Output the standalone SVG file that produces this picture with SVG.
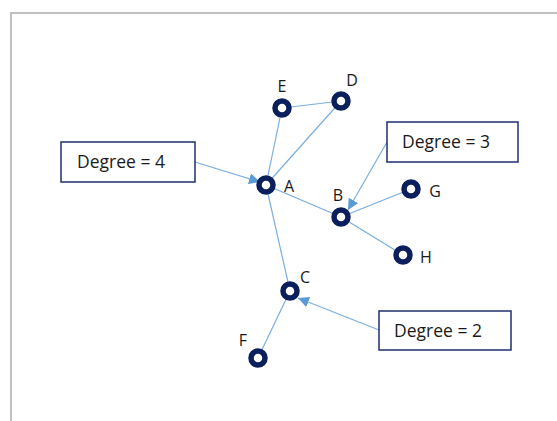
<svg xmlns="http://www.w3.org/2000/svg" width="557" height="421" viewBox="0 0 557 421">
<defs>
<style>
.edge{stroke:#7aaee0;stroke-width:1.2;fill:none}
.ptr{stroke:#7aaee0;stroke-width:1.2;fill:none;marker-end:url(#ah)}
.node circle{fill:#fff;stroke:#0b1f5c;stroke-width:5.5}
.lbl{font-family:"Open Sans","Noto Sans",sans-serif;font-size:16px;fill:#1a1a1a;text-anchor:middle}
.box rect{fill:#fff;stroke:#1f2f6e;stroke-width:1.5}
.box text{font-family:"Open Sans","Noto Sans",sans-serif;font-size:17.5px;fill:#1a1a1a}
</style>
<marker id="ah" viewBox="0 0 10 10" refX="10" refY="5" markerWidth="11" markerHeight="11" markerUnits="userSpaceOnUse" orient="auto">
<path d="M0,0 L10,5 L0,10 z" fill="#5b9bd5"/>
</marker>
</defs>
<rect x="11" y="13" width="560" height="420" fill="#fff" stroke="#c0c0c0" stroke-width="2"/>
<g id="connectors">
<line class="edge" x1="282" y1="108" x2="341" y2="101"/>
<line class="edge" x1="282" y1="108" x2="266" y2="185"/>
<line class="edge" x1="341" y1="101" x2="266" y2="185"/>
<line class="edge" x1="266" y1="185" x2="341" y2="217"/>
<line class="edge" x1="266" y1="185" x2="290" y2="291"/>
<line class="edge" x1="341" y1="217" x2="411" y2="189"/>
<line class="edge" x1="341" y1="217" x2="403" y2="255"/>
<line class="edge" x1="290" y1="291" x2="258" y2="358"/>
<line class="ptr" x1="195" y1="162" x2="260" y2="182"/>
<line class="ptr" x1="387" y1="142" x2="348" y2="210"/>
<line class="ptr" x1="379" y1="330" x2="298" y2="298"/>
</g>
<g id="node-E" class="node"><circle cx="282" cy="108" r="7"/><text class="lbl" x="282" y="92">E</text></g>
<g id="node-D" class="node"><circle cx="341" cy="101" r="7"/><text class="lbl" x="352" y="86">D</text></g>
<g id="node-A" class="node"><circle cx="266" cy="185" r="7"/><text class="lbl" x="289" y="192">A</text></g>
<g id="node-B" class="node"><circle cx="341" cy="217" r="7"/><text class="lbl" x="338" y="201">B</text></g>
<g id="node-G" class="node"><circle cx="411" cy="189" r="7"/><text class="lbl" x="435" y="197">G</text></g>
<g id="node-H" class="node"><circle cx="403" cy="255" r="7"/><text class="lbl" x="426" y="263">H</text></g>
<g id="node-C" class="node"><circle cx="290" cy="291" r="7"/><text class="lbl" x="305" y="283">C</text></g>
<g id="node-F" class="node"><circle cx="258" cy="358" r="7"/><text class="lbl" x="243" y="346">F</text></g>
<g id="box-deg4" class="box"><rect x="61" y="142" width="134" height="40"/><text x="77" y="168">Degree = 4</text></g>
<g id="box-deg3" class="box"><rect x="387" y="122" width="131" height="40"/><text x="402" y="148">Degree = 3</text></g>
<g id="box-deg2" class="box"><rect x="379" y="311" width="132" height="39"/><text x="394" y="337">Degree = 2</text></g>
</svg>
